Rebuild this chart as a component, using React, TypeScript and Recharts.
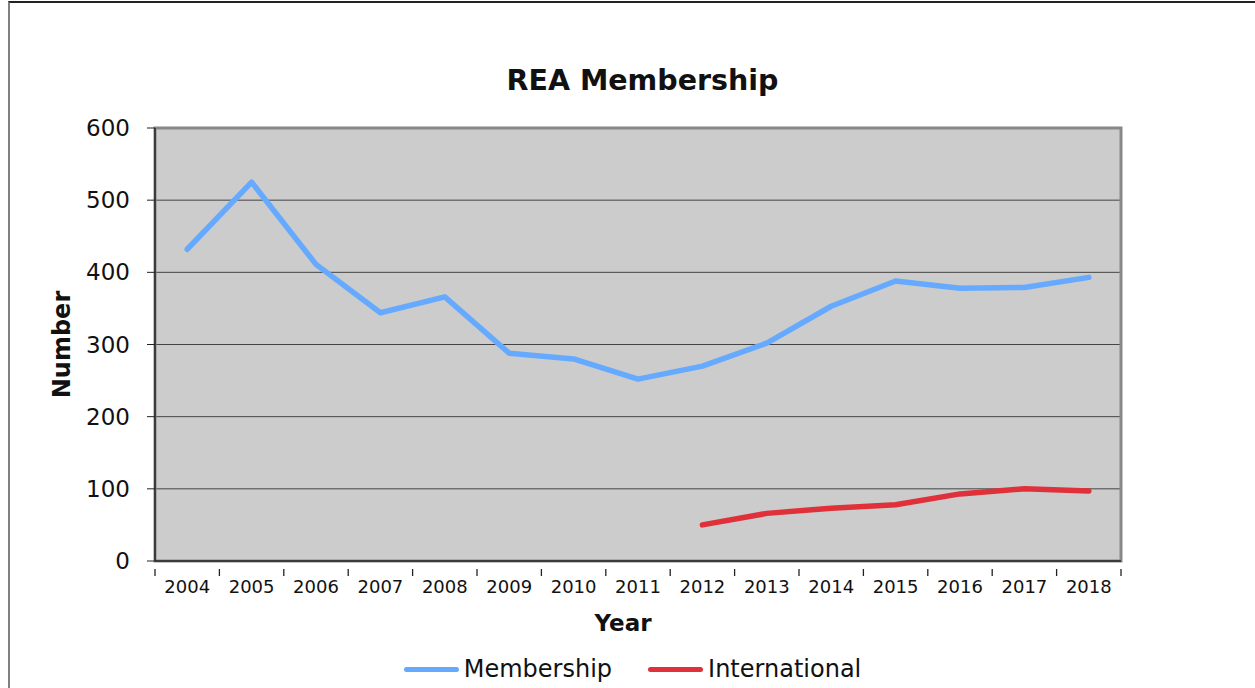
import React from 'react';
import {
  LineChart,
  Line,
  XAxis,
  YAxis,
  CartesianGrid,
  Legend,
  ReferenceArea,
} from 'recharts';

const years = ['2004', '2005', '2006', '2007', '2008', '2009', '2010', '2011', '2012', '2013', '2014', '2015', '2016', '2017', '2018'];
const membership = [432, 525, 411, 344, 366, 288, 280, 252, 270, 302, 353, 388, 378, 379, 393];
const international = [null, null, null, null, null, null, null, null, 50, 66, 73, 78, 93, 100, 97];
const yTicks = [0, 100, 200, 300, 400, 500, 600];

const series = [
  { dataKey: 'membership', name: 'Membership', color: '#66aaff' },
  { dataKey: 'international', name: 'International', color: '#e0303a' },
];

const data = years.map((year, i) => ({
  year,
  membership: membership[i],
  international: international[i],
}));

const FONT = '"DejaVu Sans", Verdana, sans-serif';

// category labels sit between tick marks, Excel style
function YearTick(props: any) {
  const { x, y, payload, index } = props;
  const half = payload.offset || 0;
  const last = index === years.length - 1;
  return (
    <g>
      <line x1={x - half} x2={x - half} y1={y} y2={y + 7} stroke="#222" strokeWidth={1.3} />
      {last && <line x1={x + half} x2={x + half} y1={y} y2={y + 7} stroke="#222" strokeWidth={1.3} />}
      <text x={x} y={y + 24} textAnchor="middle" fontSize={18} fontFamily={FONT} fill="#111">
        {payload.value}
      </text>
    </g>
  );
}

function LegendContent() {
  return (
    <div
      style={{
        display: 'flex',
        justifyContent: 'center',
        alignItems: 'center',
        gap: 36,
        fontFamily: FONT,
        fontSize: 24,
        color: '#111',
        paddingTop: 14,
      }}
    >
      {series.map((s) => (
        <div key={s.dataKey} style={{ display: 'flex', alignItems: 'center' }}>
          <span
            style={{
              display: 'inline-block',
              width: 55,
              height: 5,
              borderRadius: 3,
              background: s.color,
              marginRight: 5,
            }}
          />
          <span>{s.name}</span>
        </div>
      ))}
    </div>
  );
}

export default function App() {
  return (
    <div style={{ position: 'absolute', left: 0, top: 0, width: 1255, height: 688, background: '#fff', overflow: 'hidden' }}>
      <div
        style={{
          position: 'absolute',
          left: 8,
          top: 1,
          width: 1400,
          height: 800,
          borderLeft: '2px solid #808080',
          borderTop: '2px solid #222',
        }}
      />
      <div
        style={{
          position: 'absolute',
          left: 0,
          top: 63,
          width: 1285,
          textAlign: 'center',
          fontFamily: FONT,
          fontWeight: 'bold',
          fontSize: 28.5,
          lineHeight: '36px',
          color: '#111',
        }}
      >
        REA Membership
      </div>
      <div style={{ position: 'absolute', left: 0, top: 0 }}>
        <LineChart
          width={1255}
          height={688}
          data={data}
          margin={{ top: 128, right: 134, bottom: 0, left: 0 }}
        >
          <CartesianGrid vertical={false} stroke="#444" fill="#cccccc" fillOpacity={1} />
          <ReferenceArea y1={0} y2={600} fill="none" stroke="#888" strokeWidth={3} ifOverflow="visible" />
          <XAxis
            dataKey="year"
            scale="band"
            interval={0}
            height={80}
            tickLine={false}
            axisLine={{ stroke: '#222', strokeWidth: 1.5 }}
            tick={<YearTick />}
            label={(p: any) => {
              const vb = p.viewBox || {};
              return (
                <text
                  x={vb.x + vb.width / 2 - 15}
                  y={vb.y + 70}
                  textAnchor="middle"
                  fontFamily={FONT}
                  fontWeight="bold"
                  fontSize={23}
                  fill="#111"
                >
                  Year
                </text>
              );
            }}
          />
          <YAxis
            domain={[0, 600]}
            ticks={yTicks}
            width={155}
            tickSize={8}
            tickMargin={17}
            tickLine={{ stroke: '#222' }}
            axisLine={{ stroke: '#222', strokeWidth: 1.5 }}
            tick={{ fontSize: 23, fontFamily: FONT, fill: '#111' }}
            label={(p: any) => {
              const vb = p.viewBox || {};
              const cy = vb.y + vb.height / 2;
              return (
                <text
                  x={62}
                  y={cy}
                  transform={`rotate(-90 62 ${cy})`}
                  textAnchor="middle"
                  dominantBaseline="central"
                  fontFamily={FONT}
                  fontWeight="bold"
                  fontSize={24}
                  fill="#111"
                >
                  Number
                </text>
              );
            }}
          />
          <Legend
            verticalAlign="bottom"
            height={47}
            wrapperStyle={{ left: 0, width: 1265 }}
            content={<LegendContent />}
          />
          {series.map((s) => (
            <Line
              key={s.dataKey}
              type="linear"
              dataKey={s.dataKey}
              name={s.name}
              stroke={s.color}
              strokeWidth={5.5}
              strokeLinecap="round"
              strokeLinejoin="round"
              dot={false}
              activeDot={false}
              connectNulls={false}
              isAnimationActive={false}
            />
          ))}
        </LineChart>
      </div>
    </div>
  );
}
